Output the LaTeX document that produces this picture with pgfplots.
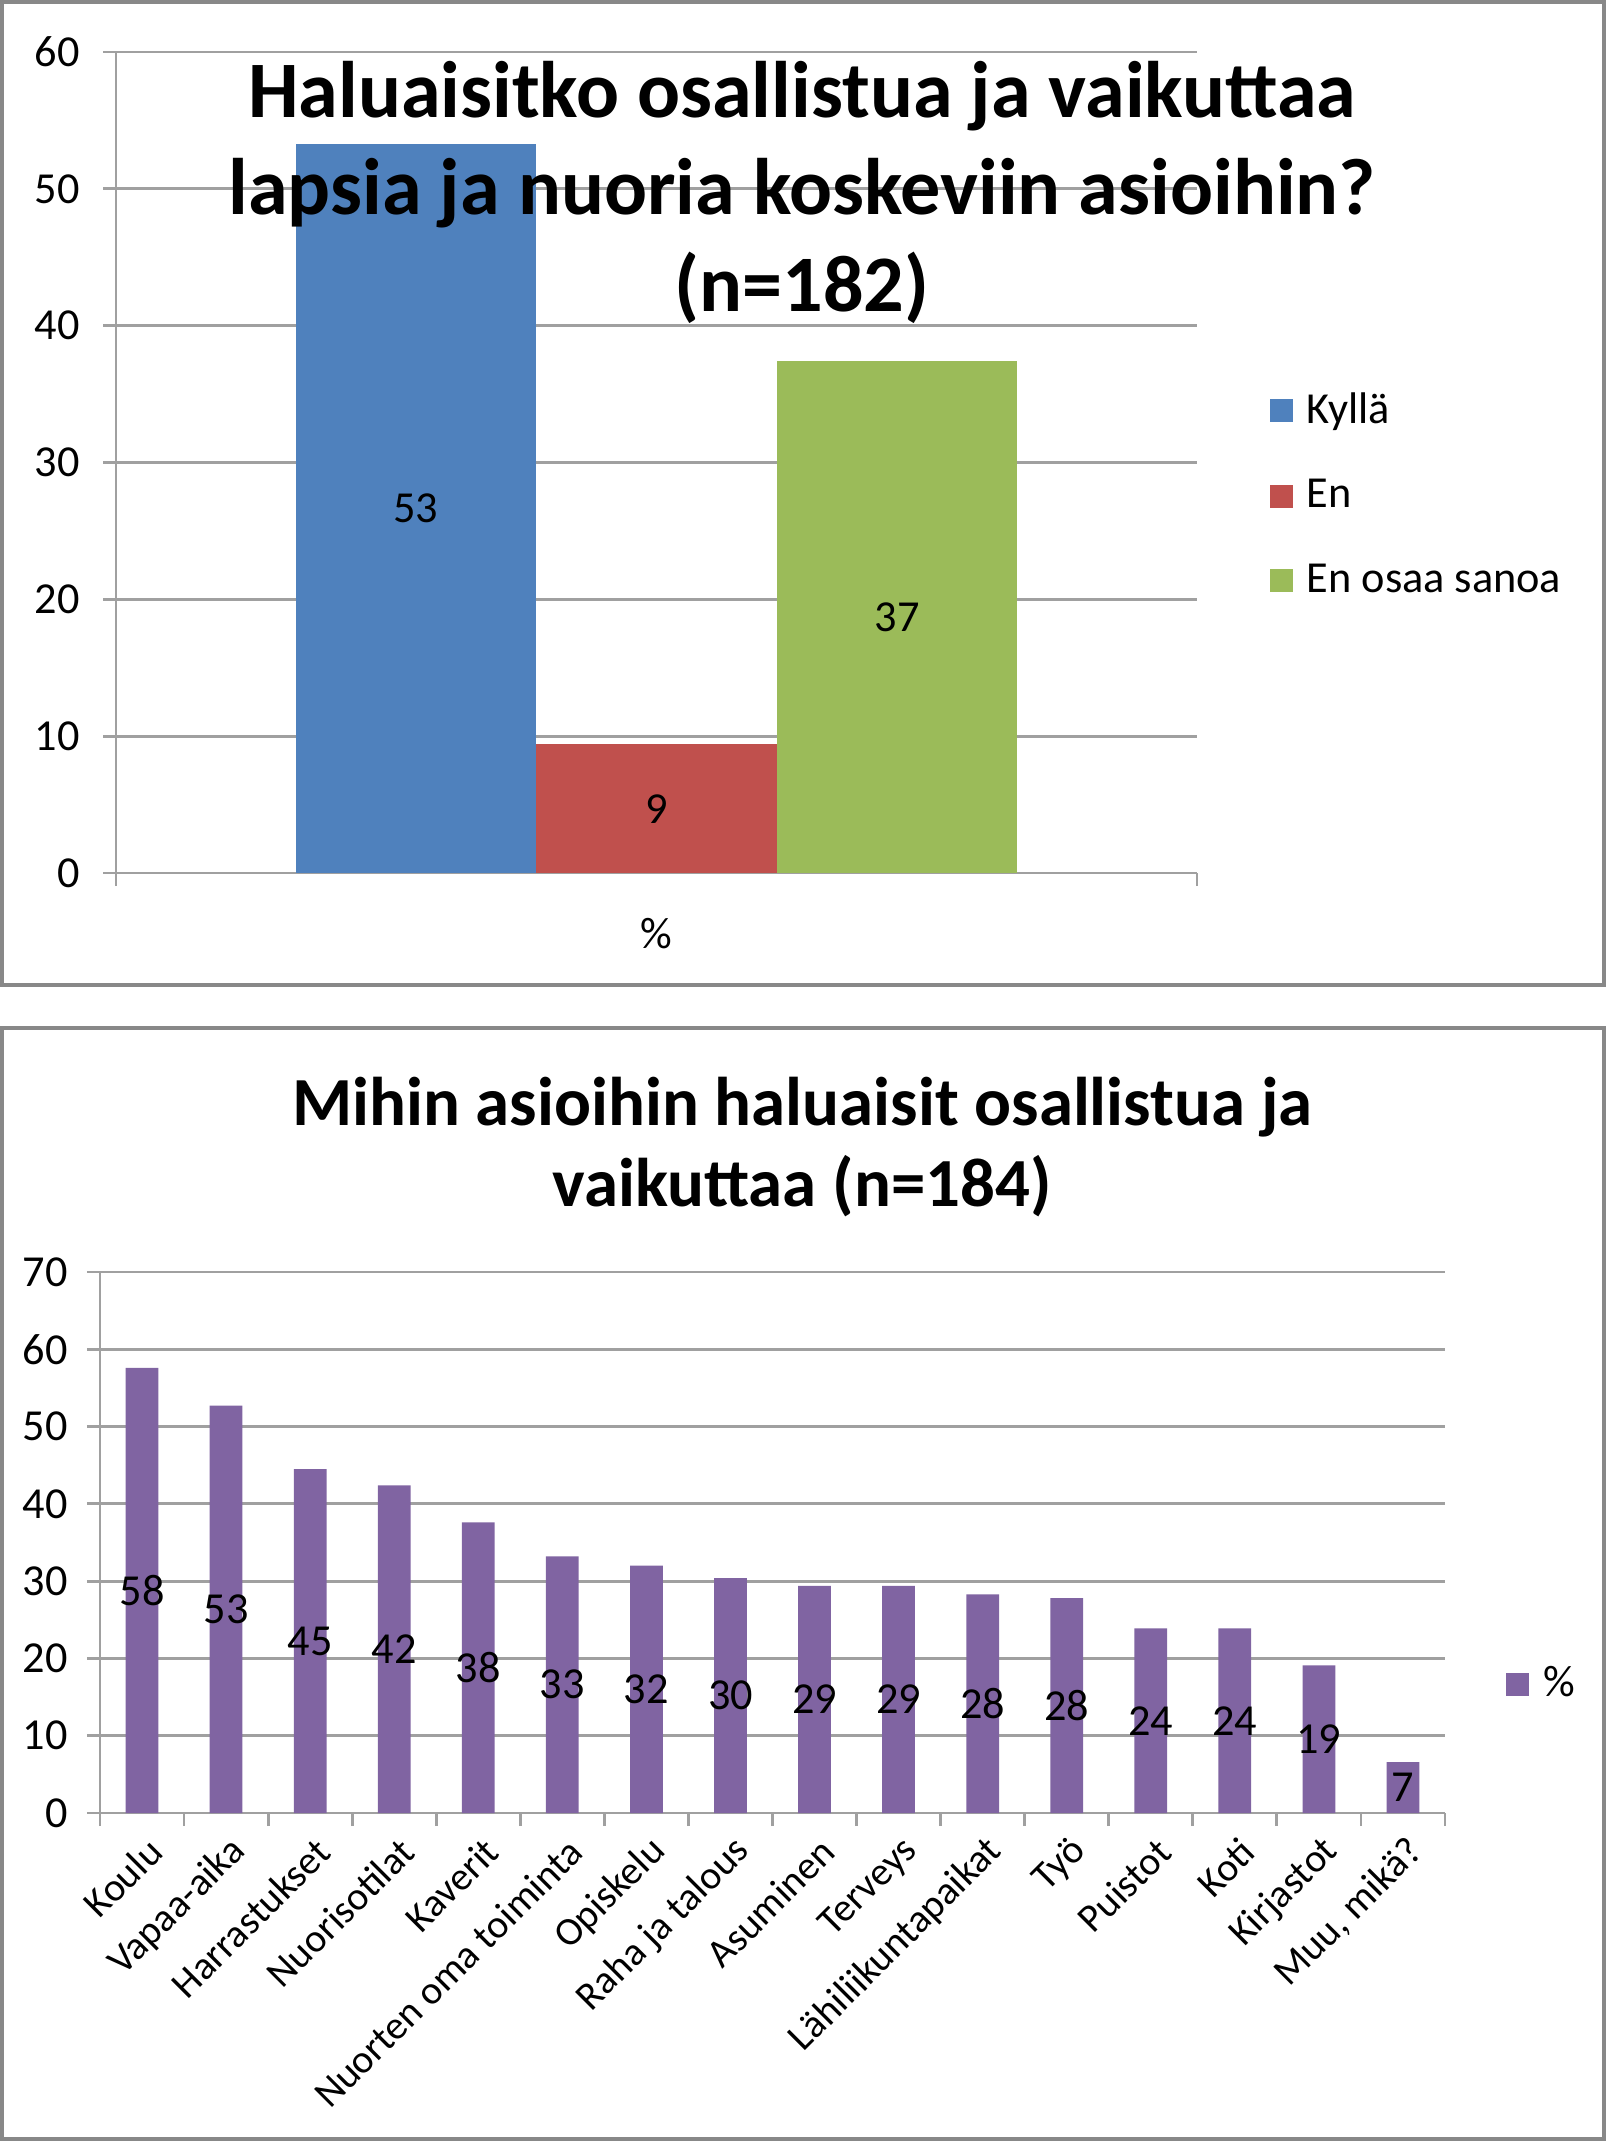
\documentclass[border=0pt]{standalone}
\usepackage{fontspec}
\setmainfont{Carlito}
\usepackage{pgfplots}
\pgfplotsset{compat=1.18}
\usepackage{pgfplotstable}

\definecolor{xlblue}{HTML}{4F81BD}
\definecolor{xlred}{HTML}{C0504D}
\definecolor{xlgreen}{HTML}{9BBB59}
\definecolor{xlpurple}{HTML}{8064A2}
\definecolor{gridgray}{HTML}{A0A0A0}
\definecolor{framegray}{HTML}{888888}

% Mihin asioihin haluaisit osallistua ja vaikuttaa, % vastaajista
\pgfplotstableread{
i v
0 57.6
1 52.7
2 44.5
3 42.4
4 37.6
5 33.2
6 32.0
7 30.4
8 29.4
9 29.4
10 28.3
11 27.8
12 23.9
13 23.9
14 19.1
15 6.6
}\mihin

\newcommand{\ticksize}{\fontsize{12.6}{15}\selectfont}

\pgfplotsset{
  xlstyle/.style={
    scale only axis,
    axis x line*=bottom, axis y line*=left,
    axis line style={draw=gridgray, line width=0.8pt, -},
    ymajorgrids, grid style={draw=gridgray, line width=0.8pt},
    tick style={draw=gridgray, line width=0.8pt},
    tick align=outside,
    major tick length=1.3mm, minor tick length=1.3mm,
    major x tick style={draw=none},
    ymin=0, ybar=0pt,
    tick label style={font=\ticksize},
    /pgf/number format/assume math mode=true,
    nodes near coords={\pgfmathprintnumber[fixed,precision=0,assume math mode=true]{\pgfplotspointmeta}},
    visualization depends on={y \as \rawy},
    every node near coord/.append style={anchor=center, font=\ticksize, text=black,
      shift={(axis direction cs:0,-\rawy/2)}},
    legend style={draw=none, fill=none, font=\ticksize, legend cell align=left,
      /tikz/every odd column/.append style={column sep=0.7mm}},
    legend image code/.code={\fill[##1] (0mm,-1.15mm) rectangle (2.3mm,1.15mm);},
  }
}

\begin{document}
\begin{tikzpicture}
\useasboundingbox (0,0) rectangle (160.8mm,-214.2mm);

\draw[framegray, line width=0.35mm] (0.2mm,-0.2mm) rectangle (160.4mm,-98.5mm);
\draw[framegray, line width=0.35mm] (0.2mm,-102.8mm) rectangle (160.4mm,-213.9mm);

\begin{axis}[xlstyle,
  at={(11.6mm,-87.3mm)}, anchor=south west,
  width=108.1mm, height=82.1mm,
  xmin=-0.5, xmax=0.5, ymax=60, ytick distance=10,
  xtick={0}, xticklabels={\%}, minor xtick={-0.5,0.5},
  xticklabel style={yshift=-2mm},
  yticklabel style={xshift=-1.1mm},
  bar width=0.2225,
  legend style={at={(1.057,0.4604)}, anchor=west, row sep=3.7mm},
]
\addplot[fill=xlblue, draw=none] coordinates {(0,53.3)};
\addplot[fill=xlred, draw=none] coordinates {(0,9.4)};
\addplot[fill=xlgreen, draw=none] coordinates {(0,37.4)};
\legend{Kyllä, En, En osaa sanoa}
\end{axis}

\begin{axis}[xlstyle,
  at={(10mm,-181.3mm)}, anchor=south west,
  width=134.5mm, height=54.1mm,
  xmin=-0.5, xmax=15.5, ymax=70, ytick distance=10,
  xtick={0,...,15},
  xticklabels={Koulu, Vapaa-aika, Harrastukset, Nuorisotilat, Kaverit,
    Nuorten oma toiminta, Opiskelu, Raha ja talous, Asuminen, Terveys,
    Lähiliikuntapaikat, Työ, Puistot, Koti, Kirjastot, {Muu, mikä?}},
  minor xtick={-0.5,0.5,...,15.5},
  xticklabel style={rotate=45, anchor=east, font=\fontsize{11.3}{13}\selectfont,
    xshift=0.8mm, yshift=-2.3mm},
  yticklabel style={xshift=-0.7mm},
  bar width=0.39,
  legend style={at={(1.037,0.238)}, anchor=west},
]
\addplot[fill=xlpurple, draw=none] table[x=i, y=v] {\mihin};
\legend{\%}
\end{axis}

\node[font=\fontsize{22.8}{27.7}\selectfont\bfseries, align=center] at (80.2mm,-19.25mm)
  {Haluaisitko osallistua ja vaikuttaa\\lapsia ja nuoria koskeviin asioihin?\\(n=182)};
\node[font=\fontsize{19.6}{23.3}\selectfont\bfseries, align=center] at (80.2mm,-114.7mm)
  {Mihin asioihin haluaisit osallistua ja\\vaikuttaa (n=184)};
\end{tikzpicture}
\end{document}
